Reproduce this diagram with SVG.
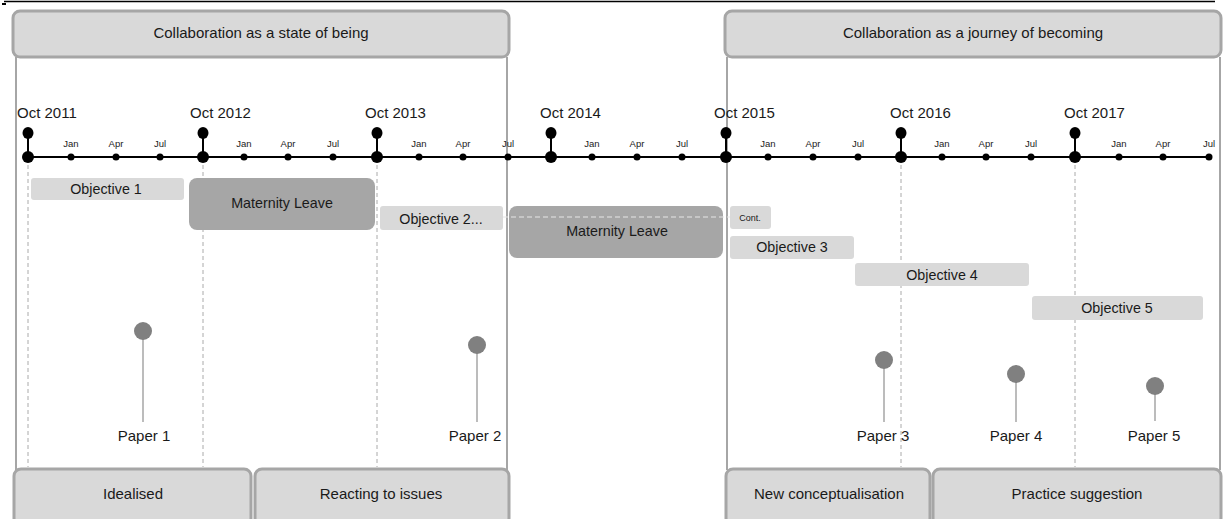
<svg xmlns="http://www.w3.org/2000/svg" width="1225" height="519" viewBox="0 0 1225 519">
  <style>
    text { font-family: "Liberation Sans", Arial, sans-serif; fill: #1a1a1a; }
    .hdr { fill: #d9d9d9; stroke: #a6a6a6; stroke-width: 3; }
    .frame { stroke: #a6a6a6; stroke-width: 2; fill: none; }
    .t14 { font-size: 14.3px; text-anchor: middle; }
    .t15 { font-size: 15px; text-anchor: middle; }
    .yr { font-size: 15px; }
    .mon { font-size: 9.5px; text-anchor: middle; }
    .obj { fill: #d9d9d9; }
    .mat { fill: #a6a6a6; }
    .guide { stroke: #aaaaaa; stroke-width: 1; stroke-dasharray: 4 3; fill: none; }
    .axis { stroke: #000; stroke-width: 2; fill: none; }
    .pin { stroke: #a6a6a6; stroke-width: 1.5; }
    .head { fill: #808080; }
  </style>

  <!-- top rule -->
  <line x1="4" y1="1.5" x2="1215" y2="1.5" stroke="#000" stroke-width="1.5"/>
  <rect x="2" y="3" width="4" height="2" fill="#000"/>

  <!-- frames -->
  <g id="frame-left">
    <line class="frame" x1="16" y1="57" x2="16" y2="470"/>
    <line class="frame" x1="507" y1="57" x2="507" y2="470"/>
  </g>
  <g id="frame-right">
    <line class="frame" x1="727" y1="57" x2="727" y2="470"/>
    <line class="frame" x1="1220" y1="57" x2="1220" y2="470"/>
  </g>

  <!-- vertical year guides -->
  <g id="guides">
    <line class="guide" x1="28" y1="165" x2="28" y2="467"/>
    <line class="guide" x1="203" y1="165" x2="203" y2="467"/>
    <line class="guide" x1="377" y1="165" x2="377" y2="467"/>
    <line class="guide" x1="901" y1="165" x2="901" y2="467"/>
    <line class="guide" x1="1075" y1="165" x2="1075" y2="467"/>
  </g>

  <!-- phase headers -->
  <g id="phase-being">
    <rect class="hdr" x="13" y="11" width="496" height="46" rx="7"/>
    <text class="t15" x="261" y="38">Collaboration as a state of being</text>
  </g>
  <g id="phase-becoming">
    <rect class="hdr" x="725" y="11" width="496" height="46" rx="7"/>
    <text class="t15" x="973" y="38">Collaboration as a journey of becoming</text>
  </g>

  <!-- timeline axis -->
  <g id="timeline">
    <line class="axis" x1="28" y1="157" x2="1210" y2="157"/>
    <g id="years">
      <g><line class="axis" x1="28" y1="133" x2="28" y2="157"/><ellipse cx="28" cy="133" rx="5.5" ry="6"/><circle cx="28" cy="157" r="6"/><text class="yr" x="17" y="118">Oct 2011</text></g>
      <g><line class="axis" x1="203" y1="133" x2="203" y2="157"/><ellipse cx="203" cy="133" rx="5.5" ry="6"/><circle cx="203" cy="157" r="6"/><text class="yr" x="190" y="118">Oct 2012</text></g>
      <g><line class="axis" x1="377" y1="133" x2="377" y2="157"/><ellipse cx="377" cy="133" rx="5.5" ry="6"/><circle cx="377" cy="157" r="6"/><text class="yr" x="365" y="118">Oct 2013</text></g>
      <g><line class="axis" x1="551" y1="133" x2="551" y2="157"/><ellipse cx="551" cy="133" rx="5.5" ry="6"/><circle cx="551" cy="157" r="6"/><text class="yr" x="540" y="118">Oct 2014</text></g>
      <g><line class="axis" x1="726" y1="133" x2="726" y2="157"/><ellipse cx="726" cy="133" rx="5.5" ry="6"/><circle cx="726" cy="157" r="6"/><text class="yr" x="714" y="118">Oct 2015</text></g>
      <g><line class="axis" x1="901" y1="133" x2="901" y2="157"/><ellipse cx="901" cy="133" rx="5.5" ry="6"/><circle cx="901" cy="157" r="6"/><text class="yr" x="890" y="118">Oct 2016</text></g>
      <g><line class="axis" x1="1075" y1="133" x2="1075" y2="157"/><ellipse cx="1075" cy="133" rx="5.5" ry="6"/><circle cx="1075" cy="157" r="6"/><text class="yr" x="1064" y="118">Oct 2017</text></g>
    </g>
    <g id="months">
      <circle cx="71" cy="157" r="3.5"/><text class="mon" x="71" y="147">Jan</text>
      <circle cx="116" cy="157" r="3.5"/><text class="mon" x="116" y="147">Apr</text>
      <circle cx="160" cy="157" r="3.5"/><text class="mon" x="160" y="147">Jul</text>
      <circle cx="244" cy="157" r="3.5"/><text class="mon" x="244" y="147">Jan</text>
      <circle cx="288" cy="157" r="3.5"/><text class="mon" x="288" y="147">Apr</text>
      <circle cx="333" cy="157" r="3.5"/><text class="mon" x="333" y="147">Jul</text>
      <circle cx="419" cy="157" r="3.5"/><text class="mon" x="419" y="147">Jan</text>
      <circle cx="463" cy="157" r="3.5"/><text class="mon" x="463" y="147">Apr</text>
      <circle cx="508" cy="157" r="3.5"/><text class="mon" x="508" y="147">Jul</text>
      <circle cx="592" cy="157" r="3.5"/><text class="mon" x="592" y="147">Jan</text>
      <circle cx="637" cy="157" r="3.5"/><text class="mon" x="637" y="147">Apr</text>
      <circle cx="682" cy="157" r="3.5"/><text class="mon" x="682" y="147">Jul</text>
      <circle cx="768" cy="157" r="3.5"/><text class="mon" x="768" y="147">Jan</text>
      <circle cx="813" cy="157" r="3.5"/><text class="mon" x="813" y="147">Apr</text>
      <circle cx="858" cy="157" r="3.5"/><text class="mon" x="858" y="147">Jul</text>
      <circle cx="942" cy="157" r="3.5"/><text class="mon" x="942" y="147">Jan</text>
      <circle cx="986" cy="157" r="3.5"/><text class="mon" x="986" y="147">Apr</text>
      <circle cx="1031" cy="157" r="3.5"/><text class="mon" x="1031" y="147">Jul</text>
      <circle cx="1119" cy="157" r="3.5"/><text class="mon" x="1119" y="147">Jan</text>
      <circle cx="1163" cy="157" r="3.5"/><text class="mon" x="1163" y="147">Apr</text>
      <circle cx="1209" cy="157" r="3.5"/><text class="mon" x="1209" y="147">Jul</text>
    </g>
  </g>

  <!-- activity bars -->
  <g id="objective-1">
    <rect class="obj" x="31" y="178" width="153" height="22" rx="3"/>
    <text class="t14" x="106" y="194">Objective 1</text>
  </g>
  <g id="maternity-1">
    <rect class="mat" x="189" y="178" width="186" height="52" rx="8"/>
    <text class="t14" x="282" y="208">Maternity Leave</text>
  </g>
  <g id="objective-2">
    <rect class="obj" x="380" y="206" width="123" height="24" rx="3"/>
    <text class="t14" x="441" y="224">Objective 2...</text>
  </g>
  <g id="maternity-2">
    <rect class="mat" x="509" y="206" width="214" height="52" rx="8"/>
    <text class="t14" x="617" y="236">Maternity Leave</text>
  </g>
  <g id="objective-2-cont">
    <rect class="obj" x="730" y="206" width="41" height="23" rx="3"/>
    <text x="750" y="221" style="font-size:9px;text-anchor:middle">Cont.</text>
  </g>
  <g id="objective-3">
    <rect class="obj" x="730" y="236" width="124" height="23" rx="3"/>
    <text class="t14" x="792" y="252">Objective 3</text>
  </g>
  <g id="objective-4">
    <rect class="obj" x="855" y="263" width="174" height="23" rx="3"/>
    <text class="t14" x="942" y="280">Objective 4</text>
  </g>
  <g id="objective-5">
    <rect class="obj" x="1032" y="296" width="171" height="24" rx="3"/>
    <text class="t14" x="1117" y="313">Objective 5</text>
  </g>

  <!-- connectors -->
  <g id="connectors">
    <line x1="503" y1="217" x2="730" y2="217" stroke="#e6e6e6" stroke-width="1" stroke-dasharray="5 3"/>
  </g>

  <!-- publications -->
  <g id="paper-1">
    <line class="pin" x1="143" y1="331" x2="143" y2="422"/>
    <circle class="head" cx="143" cy="331" r="9"/>
    <text class="t15" x="144" y="441">Paper 1</text>
  </g>
  <g id="paper-2">
    <line class="pin" x1="477" y1="345" x2="477" y2="422"/>
    <circle class="head" cx="477" cy="345" r="9"/>
    <text class="t15" x="475" y="441">Paper 2</text>
  </g>
  <g id="paper-3">
    <line class="pin" x1="884" y1="360" x2="884" y2="422"/>
    <circle class="head" cx="884" cy="360" r="9"/>
    <text class="t15" x="883" y="441">Paper 3</text>
  </g>
  <g id="paper-4">
    <line class="pin" x1="1016" y1="374" x2="1016" y2="422"/>
    <circle class="head" cx="1016" cy="374" r="9"/>
    <text class="t15" x="1016" y="441">Paper 4</text>
  </g>
  <g id="paper-5">
    <line class="pin" x1="1155" y1="386" x2="1155" y2="421"/>
    <circle class="head" cx="1155" cy="386" r="9"/>
    <text class="t15" x="1154" y="441">Paper 5</text>
  </g>

  <!-- outcome bands -->
  <g id="band-idealised">
    <rect class="hdr" x="14" y="469" width="237" height="56" rx="7"/>
    <text class="t15" x="133" y="499">Idealised</text>
  </g>
  <g id="band-reacting">
    <rect class="hdr" x="255" y="469" width="254" height="56" rx="7"/>
    <text class="t15" x="381" y="499">Reacting to issues</text>
  </g>
  <g id="band-conceptualisation">
    <rect class="hdr" x="726" y="469" width="204" height="56" rx="7"/>
    <text class="t15" x="829" y="499">New conceptualisation</text>
  </g>
  <g id="band-practice">
    <rect class="hdr" x="933" y="469" width="288" height="56" rx="7"/>
    <text class="t15" x="1077" y="499">Practice suggestion</text>
  </g>
</svg>
